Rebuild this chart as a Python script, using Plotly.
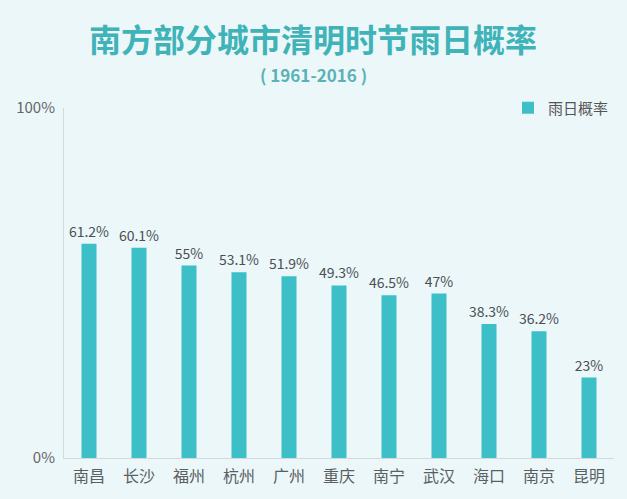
import plotly.graph_objects as go

cities = ["南昌", "长沙", "福州", "杭州", "广州", "重庆", "南宁", "武汉", "海口", "南京", "昆明"]
rain_prob = [61.2, 60.1, 55, 53.1, 51.9, 49.3, 46.5, 47, 38.3, 36.2, 23]
labels = ["61.2%", "60.1%", "55%", "53.1%", "51.9%", "49.3%", "46.5%", "47%", "38.3%", "36.2%", "23%"]
series_name = "雨日概率"
title = "南方部分城市清明时节雨日概率"
subtitle = "( 1961-2016 )"

font = "Noto Sans CJK SC"
bg = "#ecf7fa"

W, H = 627, 499
ML, MR, MT, MB = 64, 13, 108, 39
plot_w = W - ML - MR
plot_h = H - MT - MB

fig = go.Figure()
fig.add_trace(go.Bar(
    x=cities, y=rain_prob, name=series_name,
    marker=dict(color="#3dbfc7", line=dict(width=0)),
    text=labels, textposition="outside", cliponaxis=False,
    constraintext="none", textangle=0,
    textfont=dict(family=font, size=14, color="#4a4f52"),
))

cx = (313 - ML) / plot_w
fig.update_layout(
    width=W, height=H,
    paper_bgcolor=bg, plot_bgcolor=bg,
    margin=dict(l=ML, r=MR, t=MT, b=MB),
    bargap=0.70,
    showlegend=True,
    legend=dict(x=1.0, y=1.0, xanchor="right", yanchor="middle",
                font=dict(family=font, size=15, color="#555"),
                bgcolor="rgba(0,0,0,0)", itemwidth=30),
    font=dict(family=font),
    xaxis=dict(showgrid=False, showline=True, linecolor="#d2dadd", linewidth=1,
               tickfont=dict(family=font, size=16, color="#5a5f62"), ticks="",
               ticklabelstandoff=4),
    yaxis=dict(range=[0, 100], tickvals=[0, 100], ticktext=["0%", "100%"],
               showgrid=False, showline=True, linecolor="#d2dadd", linewidth=1,
               zeroline=False, ticks="", ticklabelstandoff=5,
               tickfont=dict(family=font, size=15, color="#666")),
    annotations=[
        dict(text="<b>" + title + "</b>", x=cx, xanchor="center",
             y=1 + (MT - 38) / plot_h, yanchor="middle", xref="paper", yref="paper",
             showarrow=False, font=dict(family=font, size=32, color="#3fb3b8")),
        dict(text="<b>" + subtitle + "</b>", x=cx, xanchor="center",
             y=1 + (MT - 74) / plot_h, yanchor="middle", xref="paper", yref="paper",
             showarrow=False, font=dict(family=font, size=17, color="#5ab2b7")),
    ],
)

fig.write_html("out.html")
